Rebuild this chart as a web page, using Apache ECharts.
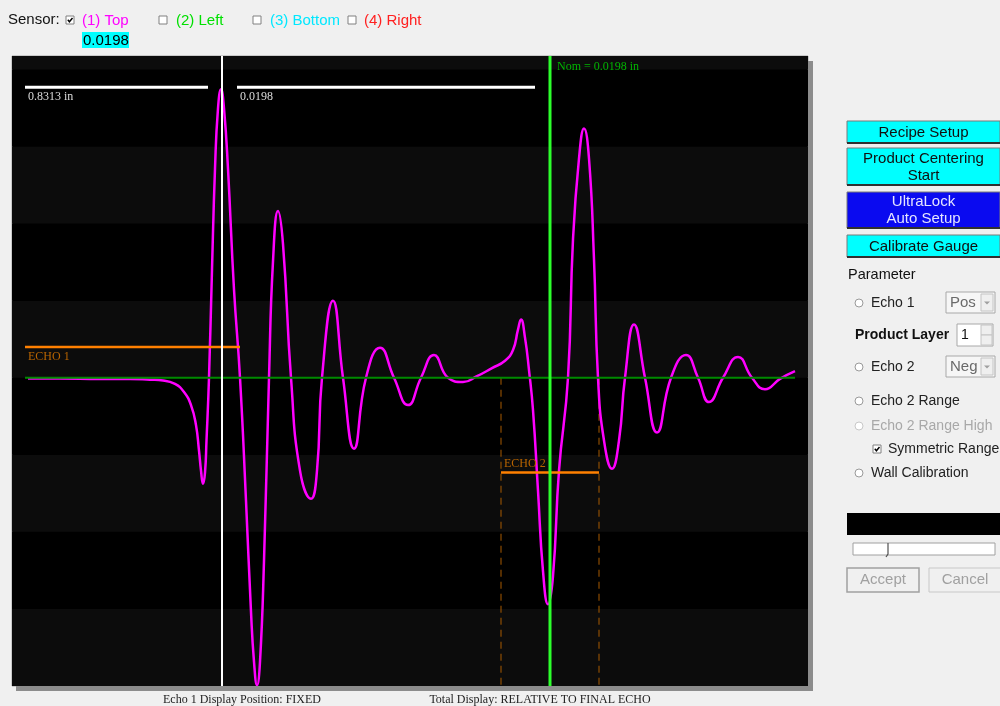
<!DOCTYPE html>
<html>
<head>
<meta charset="utf-8">
<script src="https://cdn.jsdelivr.net/npm/echarts/dist/echarts.min.js"></script>
<style>
html,body{margin:0;padding:0;background:#f0f0f0;}
#main{width:1000px;height:706px;}
</style>
</head>
<body>
<div id="main"></div>
<script>
// A-scan waveform: sample index vs. amplitude (% of full screen)
const sampleIdx = [16,48,88,118,138,151,163,172,179,184,187,189,191,193,194.5,197,200,203,206,209,212,216,222,228,234,239,242,245,248,252,257,261,266,271,279,288,299,305,310,321,331,342,354,368,382,396,409,422,436,451,465,480,493,501,506,509,513,517,521,526,531,536,541,547,556,561,567,572,577,582,586,592,600,607,613,622,633,645,659,674,686,697,711,726,740,753,768,783];
const amplitude = [-0.2,-0.2,-0.3,-0.3,-0.5,-0.7,-1.6,-3.7,-7.1,-12.3,-18.9,-24.1,-27.5,-24.6,-16.3,0,28.1,54.2,69.9,74.9,69.9,54.2,22.9,0,-31.9,-60.7,-73.7,-79.8,-73.7,-47.6,0,30.2,43.3,34.7,0,-24.1,-31.4,-24.1,0,20.0,0,-18.4,0,7.8,0,-7.1,0,5.9,0,-1.1,0.4,2.5,4.4,7.2,12.5,15.1,10.4,2.0,-8.4,-29.3,-50.2,-58.8,-51.5,-24.1,0,35.9,56.9,64.7,56.9,30.7,0,-16.3,-23.6,-16.3,0,13.8,0,-14.2,0,5.9,0,-6.3,0,5.4,0,-3.0,-0.3,1.7];

// Reference lines and gates (sample index / amplitude)
const zeroLine = [13, 783];          // start, end
const echo1Gate = [13, 228, 8.0];    // start, end, level
const echo2Gate = [489, 587, -24.6]; // start, end, level
const echo1Cursor = 210;
const nomCursor = 538;
const rulerLeft = [13, 196];
const rulerRight = [225, 523];
const rulerLevel = 75.4;
const ampRange = [-80, 83.5];

// Readouts
const sensorNames = ['(1) Top', '(2) Left', '(3) Bottom', '(4) Right'];
const sensorColors = ['#ff00ff', '#00e000', '#00e8ff', '#ff2020'];
const sensorChecked = [true, false, false, false];
const thicknessText = '0.0198';
const wallText = '0.8313 in';
const nomText = 'Nom = 0.0198 in';

const SANS = '"Liberation Sans", Arial, sans-serif';
const SERIF = '"Liberation Serif", "Times New Roman", serif';

const chart = echarts.init(document.getElementById('main'));

function seg(x0, x1, y0, y1) { return [[x0, y0], [x1, y1]]; }
function lineSeries(data, color, width, type, z) {
  return {
    type: 'line', data: data, showSymbol: false, silent: true, z: z || 3,
    lineStyle: { color: color, width: width, type: type || 'solid' },
    animation: false, clip: true
  };
}

const wave = sampleIdx.map((s, i) => [s, amplitude[i]]);

chart.setOption({
  animation: false,
  backgroundColor: '#f0f0f0',
  grid: { left: 12, top: 56, width: 796, height: 630, show: true,
          backgroundColor: '#000', borderColor: '#a4a4a4', borderWidth: 1 },
  xAxis: { type: 'value', min: 0, max: 796, show: false },
  yAxis: {
    type: 'value', min: ampRange[0], max: ampRange[1], interval: 20,
    axisLine: { show: false }, axisTick: { show: false }, axisLabel: { show: false },
    splitLine: { show: false },
    splitArea: { show: true, areaStyle: { color: ['#0c0c0c', '#000000'] } }
  },
  series: [
    lineSeries(seg(echo2Gate[0], echo2Gate[0], 0, ampRange[0]), '#a85a00', 1, [7, 5], 2),
    lineSeries(seg(echo2Gate[1], echo2Gate[1], 0, ampRange[0]), '#a85a00', 1, [7, 5], 2),
    lineSeries(wave, '#ff00ff', 2.5, 'solid', 4),
    lineSeries(seg(zeroLine[0], zeroLine[1], 0, 0), '#008a00', 2, 'solid', 5),
    lineSeries(seg(echo1Gate[0], echo1Gate[1], echo1Gate[2], echo1Gate[2]), '#ff8000', 2.5, 'solid', 5),
    lineSeries(seg(echo2Gate[0], echo2Gate[1], echo2Gate[2], echo2Gate[2]), '#ff8000', 2.5, 'solid', 5),
    lineSeries(seg(echo1Cursor, echo1Cursor, ampRange[0], ampRange[1]), '#ffffff', 2, 'solid', 6),
    lineSeries(seg(nomCursor, nomCursor, ampRange[0], ampRange[1]), '#2cff2c', 3, 'solid', 6),
    lineSeries(seg(rulerLeft[0], rulerLeft[1], rulerLevel, rulerLevel), '#ffffff', 3, 'solid', 6),
    lineSeries(seg(rulerRight[0], rulerRight[1], rulerLevel, rulerLevel), '#ffffff', 3, 'solid', 6)
  ].map((s, i) => Object.assign(s, { smooth: i === 2 ? 0.5 : false }))
});

function px(x, y) { return chart.convertToPixel({ gridIndex: 0 }, [x, y]); }

function T(x, y, s, fill, font, align) {
  return { type: 'text', x: x, y: y, z: 100, silent: true,
    style: { text: s, fill: fill, font: font, textAlign: align || 'left', align: align || 'left',
             textVerticalAlign: 'middle', verticalAlign: 'middle' } };
}
function R(x, y, w, h, fill, stroke, lw) {
  return { type: 'rect', z: 90, silent: true, shape: { x: x, y: y, width: w, height: h },
    style: { fill: fill || 'none', stroke: stroke || null, lineWidth: lw || 1 } };
}
function L(x1, y1, x2, y2, stroke, lw) {
  return { type: 'line', z: 95, silent: true, shape: { x1: x1, y1: y1, x2: x2, y2: y2 },
    style: { stroke: stroke, lineWidth: lw || 1 } };
}
function checkbox(x, y, checked) {
  const els = [R(x, y, 8, 8, '#ffffff', '#808080', 1)];
  if (checked) els.push({ type: 'polyline', z: 96, silent: true,
    shape: { points: [[x + 1.8, y + 3.8], [x + 3.4, y + 5.8], [x + 6.5, y + 2]] },
    style: { stroke: '#000', lineWidth: 1.4, fill: 'none' } });
  return els;
}
function radio(cx, cy, dim) {
  return [{ type: 'circle', z: 92, silent: true, shape: { cx: cx, cy: cy, r: 4 },
    style: { fill: '#ffffff', stroke: dim ? '#c8c8c8' : '#9a9a9a', lineWidth: 1 } }];
}
function button(x, y, w, h, fill, lines, color) {
  const els = [R(x, y, w, h, fill, '#7a7a7a', 1), L(x, y + h, x + w, y + h, '#303030', 2)];
  const lh = 17, y0 = y + h / 2 - (lines.length - 1) * lh / 2 + 0.5;
  lines.forEach((s, i) => els.push(T(x + w / 2, y0 + i * lh, s, color, '15px ' + SANS, 'center')));
  return els;
}
function dropdown(x, y, w, h, s) {
  return [R(x, y, w, h, '#f6f6f6', '#a8a8a8', 1), R(x + w - 14, y + 2, 12, h - 4, '#efefef', '#c4c4c4', 1),
    { type: 'polygon', z: 96, silent: true, shape: { points: [[x + w - 11, y + h / 2 - 1], [x + w - 5, y + h / 2 - 1], [x + w - 8, y + h / 2 + 2]] },
      style: { fill: '#a0a0a0' } },
    T(x + 4, y + h / 2, s, '#6a6a6a', '15px ' + SANS, 'left')];
}

let ui = [];
// Header: sensor selection
ui.push(T(8, 20, 'Sensor:', '#111', '15px ' + SANS));
const sensorBoxX = [66, 159, 253, 348];
const sensorTextX = [82, 176, 270, 364];
sensorNames.forEach((n, i) => {
  ui = ui.concat(checkbox(sensorBoxX[i], 16, sensorChecked[i]));
  ui.push(T(sensorTextX[i], 21, n, sensorColors[i], '15px ' + SANS));
});
ui.push(R(82, 32, 47, 16, '#00ffff'));
ui.push(T(83, 40.5, thicknessText, '#000', '15px ' + SANS));

// Plot frame shadow
ui.push(R(808, 61, 5, 630, '#8c8c8c'));
ui.push(R(16, 686, 797, 5, '#8c8c8c'));

// Status line under the plot
ui.push(T(242, 700, 'Echo 1 Display Position: FIXED', '#222', '12px ' + SERIF, 'center'));
ui.push(T(540, 700, 'Total Display: RELATIVE TO FINAL ECHO', '#222', '12px ' + SERIF, 'center'));

// Right-hand control panel
ui = ui.concat(button(847, 121, 153, 22, '#00ffff', ['Recipe Setup'], '#101010'));
ui = ui.concat(button(847, 148, 153, 37, '#00ffff', ['Product Centering', 'Start'], '#101010'));
ui = ui.concat(button(847, 192, 153, 36, '#0a0af0', ['UltraLock', 'Auto Setup'], '#e4e4ff'));
ui = ui.concat(button(847, 235, 153, 22, '#00ffff', ['Calibrate Gauge'], '#101010'));
ui.push(T(848, 275, 'Parameter', '#111', '14.5px ' + SANS));
ui = ui.concat(radio(859, 303));
ui.push(T(871, 303, 'Echo 1', '#222', '14px ' + SANS));
ui = ui.concat(dropdown(946, 292, 49, 21, 'Pos'));
ui.push(T(855, 335, 'Product Layer', '#111', 'bold 14px ' + SANS));
ui.push(R(957, 324, 36, 22, '#ffffff', '#a8a8a8', 1));
ui.push(T(961, 335, '1', '#111', '14px ' + SANS));
ui.push(R(981, 325, 11, 10, '#efefef', '#c4c4c4', 1));
ui.push(R(981, 335, 11, 10, '#efefef', '#c4c4c4', 1));
ui = ui.concat(radio(859, 367));
ui.push(T(871, 367, 'Echo 2', '#222', '14px ' + SANS));
ui = ui.concat(dropdown(946, 356, 49, 21, 'Neg'));
ui = ui.concat(radio(859, 401));
ui.push(T(871, 401, 'Echo 2 Range', '#222', '14px ' + SANS));
ui = ui.concat(radio(859, 426, true));
ui.push(T(871, 426, 'Echo 2 Range High', '#a8a8a8', '14px ' + SANS));
ui = ui.concat(checkbox(873, 445, true));
ui.push(T(888, 449, 'Symmetric Range', '#222', '14px ' + SANS));
ui = ui.concat(radio(859, 473));
ui.push(T(871, 473, 'Wall Calibration', '#222', '14px ' + SANS));
ui.push(R(847, 513, 153, 22, '#000000'));
ui.push(R(853, 543, 142, 12, '#ffffff', '#a0a0a0', 1));
ui.push({ type: 'polyline', z: 96, silent: true, shape: { points: [[888, 543], [888, 554], [886, 557]] },
  style: { stroke: '#505050', lineWidth: 1.2, fill: 'none' } });
ui.push(R(847, 568, 72, 24, '#f0f0f0', '#a0a0a0', 1.5));
ui.push(T(883, 580, 'Accept', '#a0a0a0', '15px ' + SANS, 'center'));
ui.push(R(929, 568, 72, 24, '#f0f0f0', '#c8c8c8', 1));
ui.push(T(965, 580, 'Cancel', '#a0a0a0', '15px ' + SANS, 'center'));

// Annotations placed from data coordinates
const pL = px(rulerLeft[0], rulerLevel);
const pR = px(rulerRight[0], rulerLevel);
const pN = px(nomCursor, ampRange[1]);
const pE1 = px(echo1Gate[0], echo1Gate[2]);
const pE2 = px(echo2Gate[0], echo2Gate[2]);
ui.push(T(pL[0] + 3, pL[1] + 10, wallText, '#dcdcdc', '12px ' + SERIF));
ui.push(T(pR[0] + 3, pR[1] + 10, thicknessText, '#dcdcdc', '12px ' + SERIF));
ui.push(T(pN[0] + 7, pN[1] + 11, nomText, '#00b400', '12px ' + SERIF));
ui.push(T(pE1[0] + 3, pE1[1] + 10, 'ECHO 1', '#b86400', '12px ' + SERIF));
ui.push(T(pE2[0] + 3, pE2[1] - 9, 'ECHO 2', '#b86400', '12px ' + SERIF));

chart.setOption({ graphic: { elements: ui } });
</script>
</body>
</html>
